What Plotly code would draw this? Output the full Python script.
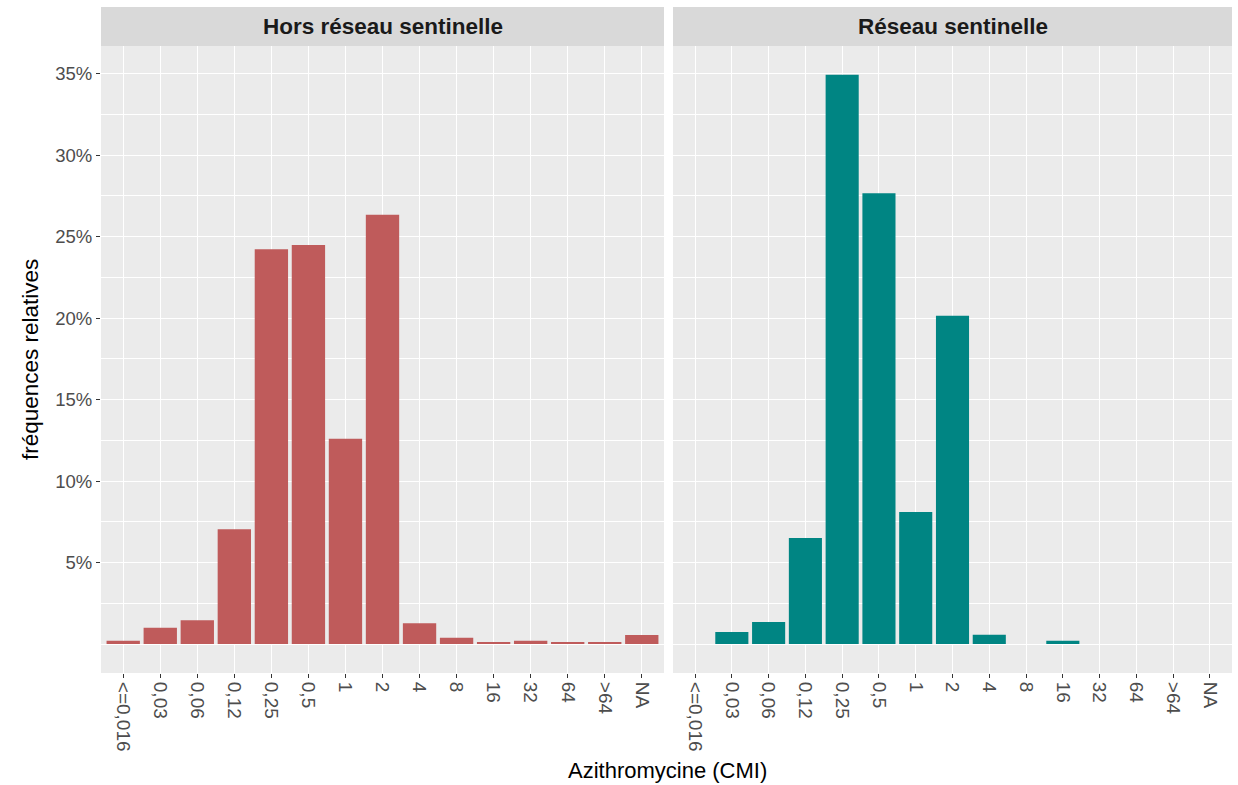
import plotly.graph_objects as go
from plotly.subplots import make_subplots

# MIC categories (azithromycin) and relative frequencies in percent
categories = ["<=0,016", "0,03", "0,06", "0,12", "0,25", "0,5", "1", "2",
              "4", "8", "16", "32", "64", ">64", "NA"]
hors_reseau = [0.20, 1.00, 1.45, 7.04, 24.23, 24.49, 12.60, 26.35,
               1.27, 0.39, 0.12, 0.20, 0.12, 0.12, 0.55]
reseau = [0.0, 0.74, 1.35, 6.50, 34.93, 27.67, 8.10, 20.14,
          0.57, 0.0, 0.20, 0.0, 0.0, 0.0, 0.0]
panel_titles = ["Hors réseau sentinelle", "Réseau sentinelle"]
y_ticks = [5, 10, 15, 20, 25, 30, 35]
y_tick_labels = ["5%", "10%", "15%", "20%", "25%", "30%", "35%"]

W, H = 1238, 785
FONT = "Liberation Sans, Arial, sans-serif"
left_dom = [101 / W, 664 / W]
right_dom = [673 / W, 1232 / W]
y_dom = [1 - 673 / H, 1 - 46 / H]

fig = make_subplots(rows=1, cols=2, shared_yaxes=True, horizontal_spacing=0.01)

fig.add_trace(go.Bar(x=categories, y=hors_reseau, marker_color="#BF5B5B",
                     marker_line_width=0, showlegend=False), row=1, col=1)
fig.add_trace(go.Bar(x=categories, y=reseau, marker_color="#008583",
                     marker_line_width=0, showlegend=False), row=1, col=2)

grid = dict(showgrid=True, gridcolor="white", gridwidth=1.1)
xcommon = dict(
    type="category", categoryorder="array", categoryarray=categories,
    range=[-0.6, len(categories) - 0.4], tickangle=90,
    ticks="outside", ticklen=4, tickcolor="#333333", tickwidth=1,
    tickfont=dict(family=FONT, size=19, color="#4D4D4D"),
    showline=False, zeroline=False, fixedrange=True, **grid,
)
fig.update_xaxes(domain=left_dom, row=1, col=1, **xcommon)
fig.update_xaxes(domain=right_dom, row=1, col=2, **xcommon)

ycommon = dict(
    range=[-1.78, 36.7], domain=y_dom,
    tickmode="array", tickvals=y_ticks, ticktext=y_tick_labels,
    zeroline=True, zerolinecolor="white", zerolinewidth=1.1,
    minor=dict(tick0=0, dtick=2.5, showgrid=True, gridcolor="white",
               gridwidth=0.55, ticks=""),
    showline=False, fixedrange=True, **grid,
)
fig.update_yaxes(row=1, col=1, ticks="outside", ticklen=4,
                 tickcolor="#333333", tickwidth=1,
                 tickfont=dict(family=FONT, size=18.5, color="#4D4D4D"),
                 **ycommon)
fig.update_yaxes(row=1, col=2, ticks="", showticklabels=False, **ycommon)

# facet strips
for dom, title in zip([left_dom, right_dom], panel_titles):
    fig.add_shape(type="rect", xref="paper", yref="paper",
                  x0=dom[0], x1=dom[1], y0=1 - 46 / H, y1=1 - 7 / H,
                  fillcolor="#D9D9D9", line_width=0, layer="below")
    fig.add_annotation(xref="paper", yref="paper", x=(dom[0] + dom[1]) / 2,
                       y=1 - 27 / H, text="<b>%s</b>" % title, showarrow=False,
                       font=dict(family=FONT, size=22.5, color="#1A1A1A"),
                       xanchor="center", yanchor="middle")

# axis titles
fig.add_annotation(xref="paper", yref="paper", x=30 / W, y=1 - 360 / H,
                   text="fréquences relatives", textangle=-90, showarrow=False,
                   font=dict(family=FONT, size=22.5, color="black"),
                   xanchor="center", yanchor="middle")
fig.add_annotation(xref="paper", yref="paper", x=667 / W, y=1 - 770 / H,
                   text="Azithromycine (CMI)", showarrow=False,
                   font=dict(family=FONT, size=22, color="black"),
                   xanchor="center", yanchor="middle")

fig.update_layout(
    width=W, height=H, margin=dict(l=0, r=0, t=0, b=0),
    paper_bgcolor="white", plot_bgcolor="#EBEBEB",
    bargap=0.1, font=dict(family=FONT),
)

fig.write_html("out.html")
